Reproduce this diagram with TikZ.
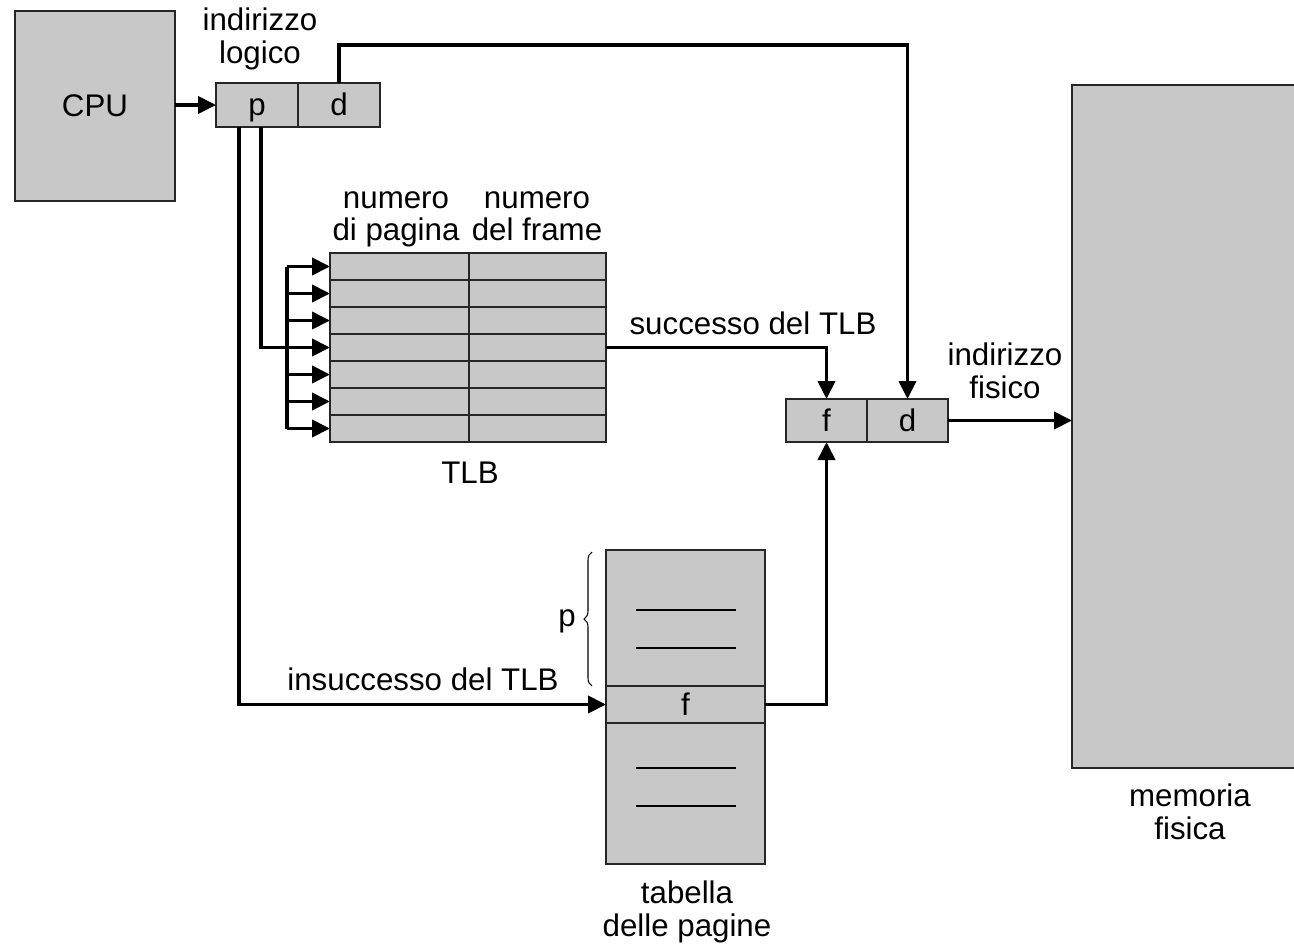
\documentclass[tikz,border=0pt]{standalone}
\usepackage{fontspec}
\setmainfont{Liberation Sans}
\usepackage{tikz}
\usetikzlibrary{arrows.meta, positioning, decorations.pathreplacing}
\definecolor{cellgray}{RGB}{200,200,200}

\begin{document}
\begin{tikzpicture}[x=0.02cm, y=-0.02cm,
	font=\fontsize{17.8}{18.6}\selectfont,
	cell/.style={draw=black!85, line width=1.2pt, fill=cellgray, inner sep=0pt, outer sep=0pt, text height=0.42cm, text depth=0pt},
	line/.style={line width=2.2pt},
	wire/.style={line width=2.2pt, -{Triangle[length=0.36cm, width=0.34cm]}},
	lbl/.style={align=center, inner sep=0pt}]
	\useasboundingbox (0,0) rectangle (1294,947);
	% Boxes:
	\node[cell, minimum width=3.2cm, minimum height=3.8cm](cpu) at (95,106){CPU};
	\node[cell, minimum width=1.64cm, minimum height=0.88cm](lap) at (257,105){p};
	\node[cell, minimum width=1.64cm, minimum height=0.88cm](lad) at (339,105){d};
	\node[lbl](loglbl) at (260,39){indirizzo\\logico};
	% TLB rows:
	\foreach \i in {1,...,7}{
		\node[cell, minimum width=2.78cm, minimum height=0.54cm](tlbp\i) at (399.5, 239.5+27*\i){};
		\node[cell, minimum width=2.74cm, minimum height=0.54cm](tlbf\i) at (537.5, 239.5+27*\i){};
		\coordinate (bus\i) at (287, 239.5+27*\i);
	}
	\node[lbl, anchor=north](hpage) at (396,191){numero\\di pagina};
	\node[lbl, anchor=north](hframe) at (537,191){numero\\del frame};
	\node[lbl](tlblbl) at (470,473){TLB};
	% Physical address and memory:
	\node[cell, minimum width=1.62cm, minimum height=0.86cm](physf) at (826.5,420.5){f};
	\node[cell, minimum width=1.62cm, minimum height=0.86cm](physd) at (907.5,420.5){d};
	\node[lbl](physlbl) at (1005,371){indirizzo\\fisico};
	\node[cell, minimum width=4.6cm, minimum height=13.66cm](mem) at (1187,426.5){};
	\node[lbl](memlbl) at (1190,812){memoria\\fisica};
	% Page table:
	\node[cell, minimum width=3.18cm, minimum height=2.72cm](ptup) at (685.5,618){};
	\node[cell, minimum width=3.18cm, minimum height=0.74cm](ptf) at (685.5,704.5){f};
	\node[cell, minimum width=3.18cm, minimum height=2.82cm](ptlow) at (685.5,793.5){};
	\foreach \y in {610,648,768,806}
		\draw[line width=1.2pt] (636,\y) -- (736,\y);
	\node[lbl](ptlbl) at (687,912){tabella\\delle pagine};
	\draw[decorate, decoration={brace, amplitude=0.16cm}, line width=0.6pt] (592,686) -- (592,552);
	\node[lbl](ppage) at (567,621){p};
	\node[lbl](hit) at (753,323){successo del TLB};
	\node[lbl](miss) at (423,679){insuccesso del TLB};
	% Wires:
	\draw[wire] (cpu.east |- lap.west) -- (lap.west);
	\draw[wire] (lad.north) -- ++(0,-38) -| (physd.north);
	\draw[wire] ([xshift=-0.36cm]lap.south) |- (ptf.west);
	\draw[line] ([xshift=0.08cm]lap.south) |- (bus4);
	\draw[line] (bus1) -- (bus7);
	\foreach \i in {1,...,7}
		\draw[wire] (bus\i) -- (tlbp\i.west);
	\draw[wire] (tlbf4.east) -| (physf.north);
	\draw[wire] (ptf.east) -| (physf.south);
	\draw[wire] (physd.east) -- (physd.east -| mem.west);
\end{tikzpicture}
\end{document}
